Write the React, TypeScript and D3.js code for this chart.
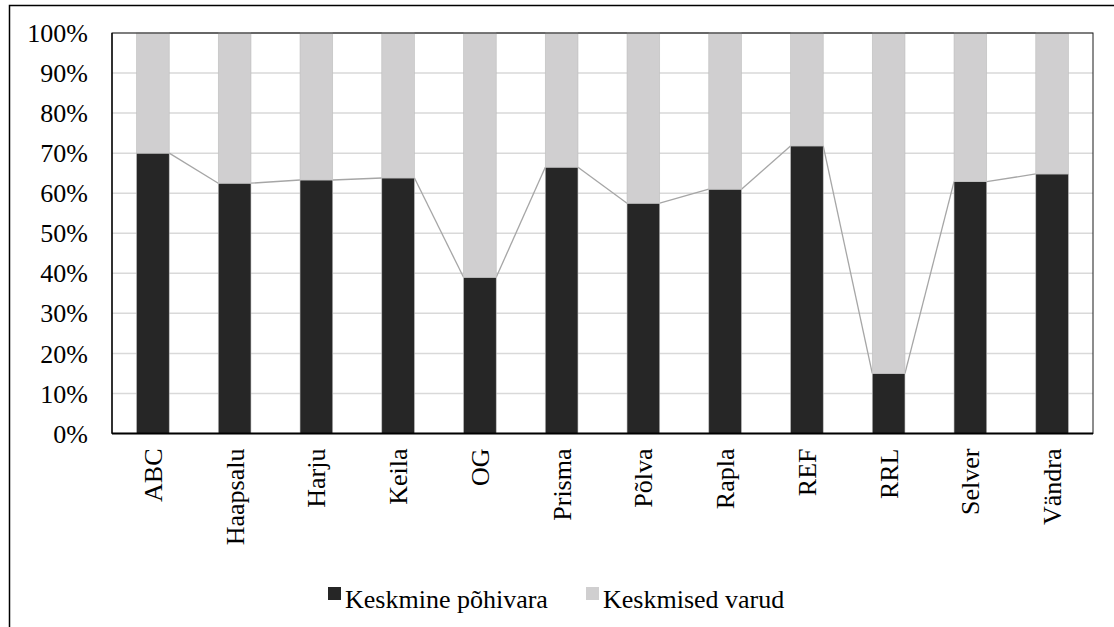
import React, { useEffect, useRef } from 'react';
import * as d3 from 'd3';

const categories = ['ABC', 'Haapsalu', 'Harju', 'Keila', 'OG', 'Prisma', 'Põlva', 'Rapla', 'REF', 'RRL', 'Selver', 'Vändra'];
const pohivara = [70, 62.5, 63.3, 63.8, 39, 66.5, 57.5, 61, 71.8, 15, 62.9, 64.8];
const varud = pohivara.map(v => 100 - v);
const yTicks = [0, 10, 20, 30, 40, 50, 60, 70, 80, 90, 100];
const seriesNames = ['Keskmine põhivara', 'Keskmised varud'];

const W = 1114;
const H = 627;
const margin = { left: 112, right: 21, top: 33, bottom: 193.5 };

const colors = {
    dark: '#262626',
    light: '#d0cfd0',
    grid: '#d9d9d9',
    series: '#a6a6a6',
    text: '#000000'
};

const FONT = "'Liberation Serif', 'Times New Roman', serif";
const FONT_SIZE = 26;

const App = () => {
    const svgRef = useRef<SVGSVGElement | null>(null);

    useEffect(() => {
        const svg = d3.select(svgRef.current);
        svg.selectAll('*').remove();

        const x0 = margin.left;
        const x1 = W - margin.right;
        const y0 = H - margin.bottom;
        const y1 = margin.top;

        const x = d3.scaleBand<string>()
            .domain(categories)
            .range([x0, x1])
            .paddingInner(0.6)
            .paddingOuter(0.3);

        const y = d3.scaleLinear().domain([0, 100]).range([y0, y1]);

        // outer chart frame
        svg.append('rect')
            .attr('x', 9.5).attr('y', 5.5)
            .attr('width', W + 20).attr('height', H + 20)
            .attr('fill', 'none').attr('stroke', '#000').attr('stroke-width', 1.5);

        // gridlines
        svg.append('g').selectAll('line')
            .data(yTicks)
            .enter().append('line')
            .attr('x1', x0).attr('x2', x1)
            .attr('y1', d => y(d)).attr('y2', d => y(d))
            .attr('stroke', colors.grid).attr('stroke-width', 1.5);

        // series lines between bar tops
        const lines = svg.append('g');
        for (let i = 0; i < categories.length - 1; i++) {
            lines.append('line')
                .attr('x1', (x(categories[i]) as number) + x.bandwidth())
                .attr('y1', y(pohivara[i]))
                .attr('x2', x(categories[i + 1]) as number)
                .attr('y2', y(pohivara[i + 1]))
                .attr('stroke', colors.series).attr('stroke-width', 1.3);
            lines.append('line')
                .attr('x1', (x(categories[i]) as number) + x.bandwidth())
                .attr('y1', y(100))
                .attr('x2', x(categories[i + 1]) as number)
                .attr('y2', y(100))
                .attr('stroke', colors.series).attr('stroke-width', 1.3);
        }

        // bars
        const bars = svg.append('g');
        categories.forEach((c, i) => {
            bars.append('rect')
                .attr('x', x(c) as number)
                .attr('y', y(pohivara[i]))
                .attr('width', x.bandwidth())
                .attr('height', y0 - y(pohivara[i]))
                .attr('fill', colors.dark)
                .attr('stroke', '#bfbfbf').attr('stroke-width', 0.6);
            bars.append('rect')
                .attr('x', x(c) as number)
                .attr('y', y(pohivara[i] + varud[i]))
                .attr('width', x.bandwidth())
                .attr('height', y(pohivara[i]) - y(pohivara[i] + varud[i]))
                .attr('fill', colors.light)
                .attr('stroke', '#bfbfbf').attr('stroke-width', 0.6);
        });

        // plot area border
        svg.append('rect')
            .attr('x', x0).attr('y', y1)
            .attr('width', x1 - x0).attr('height', y0 - y1)
            .attr('fill', 'none').attr('stroke', '#1a1a1a').attr('stroke-width', 1);
        svg.append('line')
            .attr('x1', x0).attr('x2', x1)
            .attr('y1', y0).attr('y2', y0)
            .attr('stroke', '#000').attr('stroke-width', 2.2);
        svg.append('line')
            .attr('x1', x0).attr('x2', x0)
            .attr('y1', y1).attr('y2', y0)
            .attr('stroke', '#000').attr('stroke-width', 1.3);

        const textRoot = svg.append('g')
            .attr('font-family', FONT)
            .attr('font-size', FONT_SIZE)
            .attr('fill', colors.text);

        // y tick labels
        textRoot.append('g').selectAll('text')
            .data(yTicks)
            .enter().append('text')
            .attr('x', 88)
            .attr('y', d => y(d))
            .attr('dy', '0.35em')
            .attr('text-anchor', 'end')
            .text(d => `${d}%`);

        // x tick labels (rotated)
        textRoot.append('g').selectAll('text')
            .data(categories)
            .enter().append('text')
            .attr('transform', d => `translate(${(x(d) as number) + x.bandwidth() / 2},${y0 + 15}) rotate(-90)`)
            .attr('dy', '0.35em')
            .attr('text-anchor', 'end')
            .text(d => d);

        // legend
        const legendItems = [
            { name: seriesNames[0], color: colors.dark, x: 328 },
            { name: seriesNames[1], color: colors.light, x: 586 }
        ];
        const lg = textRoot.append('g');
        legendItems.forEach(item => {
            lg.append('rect')
                .attr('x', item.x).attr('y', 587)
                .attr('width', 13).attr('height', 13)
                .attr('fill', item.color);
            lg.append('text')
                .attr('x', item.x + 17).attr('y', 608)
                .text(item.name);
        });
    }, []);

    return (
        <div style={{ position: 'fixed', left: 0, top: 0, width: W, height: H, background: '#fff' }}>
            <svg ref={svgRef} width={W} height={H} style={{ display: 'block' }} />
        </div>
    );
};

export default App;
